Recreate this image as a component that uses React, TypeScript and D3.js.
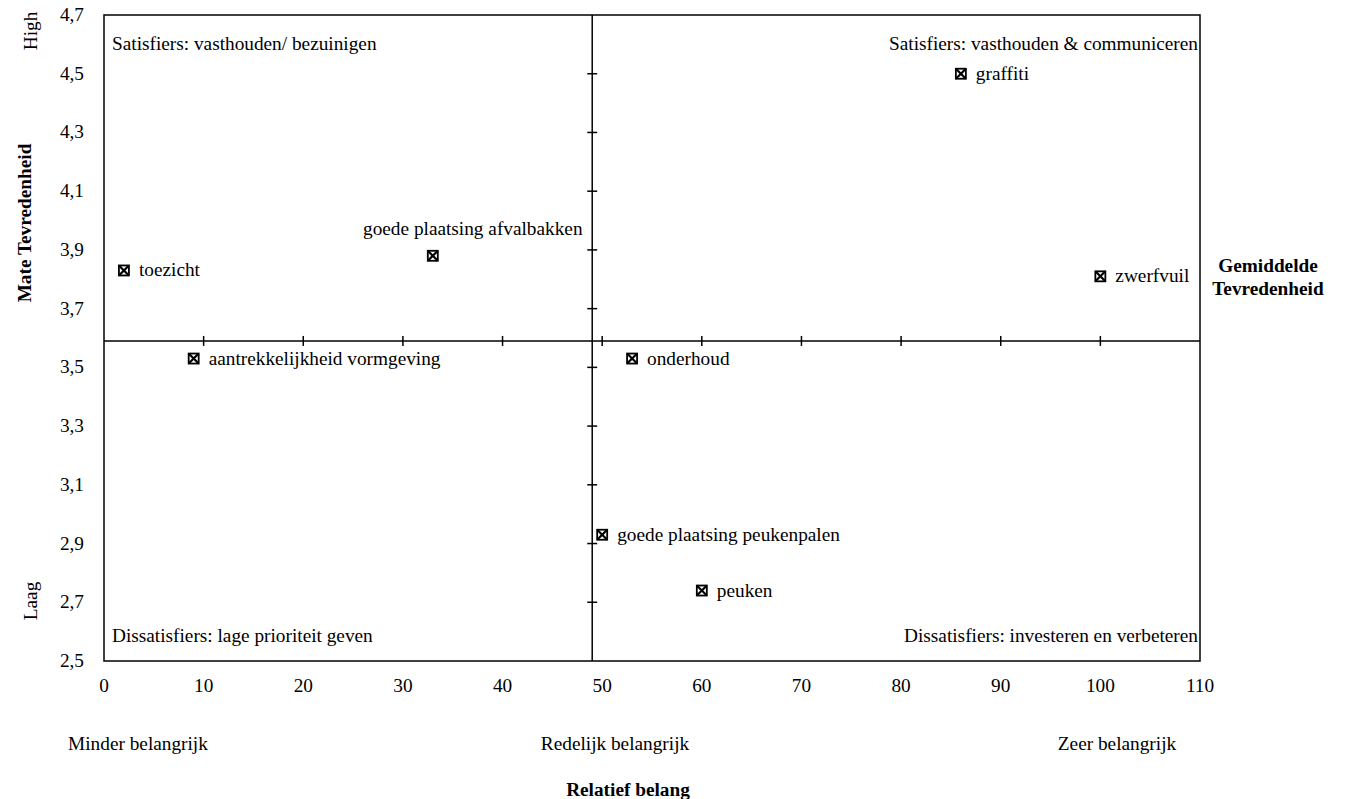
import React from "react";
import * as d3 from "d3";

const labels = [
  "toezicht",
  "goede plaatsing afvalbakken",
  "aantrekkelijkheid vormgeving",
  "onderhoud",
  "graffiti",
  "zwerfvuil",
  "goede plaatsing peukenpalen",
  "peuken",
];
const importance = [2, 33, 9, 53, 86, 100, 50, 60];
const satisfaction = [3.83, 3.88, 3.53, 3.53, 4.5, 3.81, 2.93, 2.74];
const labelAbove = [false, true, false, false, false, false, false, false];

const xTicks = [0, 10, 20, 30, 40, 50, 60, 70, 80, 90, 100, 110];
const yTicks = [2.5, 2.7, 2.9, 3.1, 3.3, 3.5, 3.7, 3.9, 4.1, 4.3, 4.5, 4.7];
const meanImportance = 49;
const meanSatisfaction = 3.59;

const W = 1346;
const H = 799;
const FONT = "'Liberation Serif', 'Times New Roman', serif";

export default function App() {
  const x = d3.scaleLinear().domain([0, 110]).range([104, 1200]);
  const y = d3.scaleLinear().domain([2.5, 4.7]).range([661, 15]);
  const fmt = (v: number) => d3.format(".1f")(v).replace(".", ",");
  const cx = x(meanImportance);
  const cy = y(meanSatisfaction);
  const fs = 19.3;

  return (
    <svg
      width={W}
      height={H}
      style={{ position: "absolute", left: 0, top: 0 }}
      fontFamily={FONT}
    >
      <rect x={0} y={0} width={W} height={H} fill="#fff" />
      <rect
        x={x(0)}
        y={y(4.7)}
        width={x(110) - x(0)}
        height={y(2.5) - y(4.7)}
        fill="none"
        stroke="#000"
        strokeWidth={1.5}
      />
      <line x1={x(0)} x2={x(110)} y1={cy} y2={cy} stroke="#000" strokeWidth={1.5} />
      <line x1={cx} x2={cx} y1={y(2.5)} y2={y(4.7)} stroke="#000" strokeWidth={1.5} />
      {xTicks.slice(1, -1).map((t) => (
        <line key={"xt" + t} x1={x(t)} x2={x(t)} y1={cy - 5} y2={cy + 5} stroke="#000" strokeWidth={1.5} />
      ))}
      {yTicks.slice(1, -1).map((t) => (
        <line key={"yt" + t} x1={cx - 5} x2={cx + 5} y1={y(t)} y2={y(t)} stroke="#000" strokeWidth={1.5} />
      ))}
      {xTicks.map((t) => (
        <text key={"xl" + t} x={x(t)} y={692} textAnchor="middle" fontSize={fs} fill="#000">
          {t}
        </text>
      ))}
      {yTicks.map((t) => (
        <text key={"yl" + t} x={84} y={y(t) + 6} textAnchor="end" fontSize={fs} fill="#000">
          {fmt(t)}
        </text>
      ))}
      <text x={112} y={50} fontSize={fs} fill="#000">Satisfiers: vasthouden/ bezuinigen</text>
      <text x={1198} y={50} fontSize={fs} textAnchor="end" fill="#000">Satisfiers: vasthouden &amp; communiceren</text>
      <text x={112} y={642} fontSize={fs} fill="#000">Dissatisfiers: lage prioriteit geven</text>
      <text x={1198} y={642} fontSize={fs} textAnchor="end" fill="#000">Dissatisfiers: investeren en verbeteren</text>
      {labels.map((l, i) => {
        const px = x(importance[i]);
        const py = y(satisfaction[i]);
        const s = 5;
        return (
          <g key={l}>
            <rect x={px - s} y={py - s} width={2 * s} height={2 * s} fill="#fff" stroke="#000" strokeWidth={1.8} />
            <line x1={px - s} y1={py - s} x2={px + s} y2={py + s} stroke="#000" strokeWidth={2.2} />
            <line x1={px - s} y1={py + s} x2={px + s} y2={py - s} stroke="#000" strokeWidth={2.2} />
            {labelAbove[i] ? (
              <text x={px + 40} y={py - 21} textAnchor="middle" fontSize={fs} fill="#000">{l}</text>
            ) : (
              <text x={px + 15} y={py + 6} fontSize={fs} fill="#000">{l}</text>
            )}
          </g>
        );
      })}
      <text transform="translate(37,31) rotate(-90)" textAnchor="middle" fontSize={fs} fill="#000">High</text>
      <text transform="translate(37,601) rotate(-90)" textAnchor="middle" fontSize={fs} fill="#000">Laag</text>
      <text transform="translate(31,223) rotate(-90)" textAnchor="middle" fontSize={fs} fontWeight="bold" fill="#000">Mate Tevredenheid</text>
      <text x={1268} y={272} textAnchor="middle" fontSize={fs} fontWeight="bold" fill="#000">Gemiddelde</text>
      <text x={1268} y={295} textAnchor="middle" fontSize={fs} fontWeight="bold" fill="#000">Tevredenheid</text>
      <text x={138} y={750} textAnchor="middle" fontSize={fs} fill="#000">Minder belangrijk</text>
      <text x={615} y={750} textAnchor="middle" fontSize={fs} fill="#000">Redelijk belangrijk</text>
      <text x={1117} y={750} textAnchor="middle" fontSize={fs} fill="#000">Zeer belangrijk</text>
      <text x={628} y={796} textAnchor="middle" fontSize={fs} fontWeight="bold" fill="#000">Relatief belang</text>
    </svg>
  );
}
